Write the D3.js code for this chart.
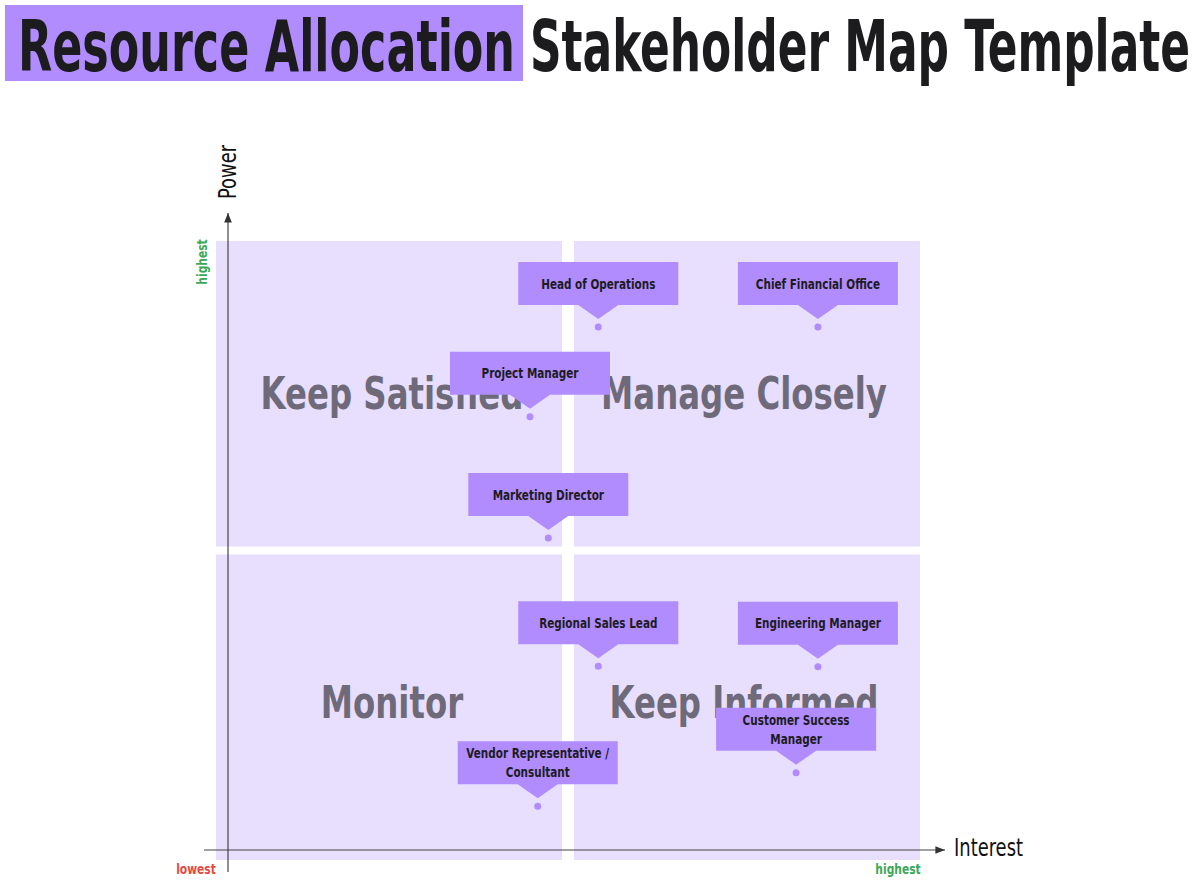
<!DOCTYPE html>
<html>
<head>
<meta charset="utf-8">
<script src="https://cdn.jsdelivr.net/npm/d3@7"></script>
<style>
body { margin: 0; background: #fff; }
</style>
</head>
<body>
<svg id="chart" width="1200" height="884"></svg>
<script>
// stakeholders: interest (x) and power (y), 0..100
const names = ["Head of Operations", "Chief Financial Office", "Project Manager", "Marketing Director",
    "Regional Sales Lead", "Engineering Manager", "Customer Success Manager", "Vendor Representative / Consultant"]
const interest = [54.3, 85.5, 44.6, 47.2, 54.3, 85.5, 82.4, 45.7]
const power = [86.1, 86.1, 71.6, 52.0, 31.3, 31.2, 14.1, 8.7]
const labelLines = [["Head of Operations"], ["Chief Financial Office"], ["Project Manager"], ["Marketing Director"],
    ["Regional Sales Lead"], ["Engineering Manager"], ["Customer Success", "Manager"], ["Vendor Representative /", "Consultant"]]
const quadrants = [
    { name: "Keep Satisfied", x0: 0, x1: 50, y0: 50, y1: 100 },
    { name: "Manage Closely", x0: 50, x1: 100, y0: 50, y1: 100 },
    { name: "Monitor", x0: 0, x1: 50, y0: 0, y1: 50 },
    { name: "Keep Informed", x0: 50, x1: 100, y0: 0, y1: 50 }
]

const svg = d3.select("#chart")
const font = "'Liberation Sans Narrow', 'DejaVu Sans Condensed', sans-serif"

let x = d3.scaleLinear().domain([0, 100]).range([216, 920])
let y = d3.scaleLinear().domain([0, 100]).range([860, 241])

// narrow text: condensed font squeezed horizontally
function narrow(parent, tx, ty, str, css, fill, anchor, sx) {
    return parent.append("text")
        .attr("transform", `translate(${tx},${ty}) scale(${sx || 0.8},1)`)
        .attr("text-anchor", anchor || "start")
        .style("font", css + " " + font)
        .attr("fill", fill)
        .text(str)
}

// title
svg.append("rect").attr("x", 5).attr("y", 5).attr("width", 518).attr("height", 76).attr("fill", "#b18cfe")
svg.append("text").attr("x", 18).attr("y", 71).attr("textLength", 497).attr("lengthAdjust", "spacingAndGlyphs")
    .style("font", "bold 72px " + font).attr("fill", "#1c1c1f").text("Resource Allocation")
svg.append("text").attr("x", 530).attr("y", 71).attr("textLength", 660).attr("lengthAdjust", "spacingAndGlyphs")
    .style("font", "bold 72px " + font).attr("fill", "#1c1c1f").text("Stakeholder Map Template")

// quadrant backgrounds (gap of 12px horizontally, 8px vertically)
svg.selectAll(".quad").data(quadrants).enter().append("rect")
    .attr("x", d => x(d.x0) + (d.x0 == 50 ? 6 : 0))
    .attr("width", d => x(d.x1) - x(d.x0) - 6)
    .attr("y", d => y(d.y1) + (d.y1 == 50 ? 4 : 0))
    .attr("height", d => y(d.y0) - y(d.y1) - 4)
    .attr("fill", "#e8defe")

quadrants.forEach(d => {
    narrow(svg, (x(d.x0) + x(d.x1)) / 2, (y(d.y0) + y(d.y1)) / 2 + 13, d.name,
        "bold 45px", "#6e6a7a", "middle", 0.8)
})

// axes
svg.append("defs").append("marker").attr("id", "arr").attr("viewBox", "0 0 10 10")
    .attr("refX", 10).attr("refY", 5).attr("markerWidth", 8).attr("markerHeight", 8).attr("orient", "auto")
    .append("path").attr("d", "M0,1L10,5L0,9Z").attr("fill", "#333")
svg.append("line").attr("x1", 228).attr("y1", 872).attr("x2", 228).attr("y2", 213)
    .attr("stroke", "#444").attr("stroke-width", 1.2).attr("marker-end", "url(#arr)")
svg.append("line").attr("x1", 204).attr("y1", 850).attr("x2", 945).attr("y2", 850)
    .attr("stroke", "#444").attr("stroke-width", 1.2).attr("marker-end", "url(#arr)")

svg.append("text").attr("transform", "translate(236,172) rotate(-90) scale(0.83,1)").attr("text-anchor", "middle")
    .style("font", "24px " + font).attr("fill", "#111").text("Power")
narrow(svg, 954, 856, "Interest", "24px", "#111", "start", 0.83)
svg.append("text").attr("transform", "translate(207,262) rotate(-90) scale(0.85,1)").attr("text-anchor", "middle")
    .style("font", "bold 14px " + font).attr("fill", "#3aa856").text("highest")
narrow(svg, 898, 874, "highest", "bold 14px", "#3aa856", "middle", 0.85)
narrow(svg, 196, 874, "lowest", "bold 14px", "#e8483f", "middle", 0.85)

// stakeholder callouts
const boxW = 160, boxH = 43
names.forEach((n, i) => {
    let px = x(interest[i]), py = y(power[i])
    let g = svg.append("g")
    g.append("circle").attr("cx", px).attr("cy", py).attr("r", 3.5).attr("fill", "#b18cfe")
    let top = py - 22 - boxH
    g.append("path")
        .attr("d", `M${px - boxW / 2},${top}h${boxW}v${boxH}h${-(boxW / 2 - 20)}L${px},${py - 8}L${px - 20},${py - 22}H${px - boxW / 2}Z`)
        .attr("fill", "#b18cfe")
    let lines = labelLines[i]
    lines.forEach((t, j) => {
        narrow(g, px, top + boxH / 2 + 5 + (j - (lines.length - 1) / 2) * 19, t,
            "bold 14.5px", "#1c1c1f", "middle", 0.8)
    })
})
</script>
</body>
</html>
